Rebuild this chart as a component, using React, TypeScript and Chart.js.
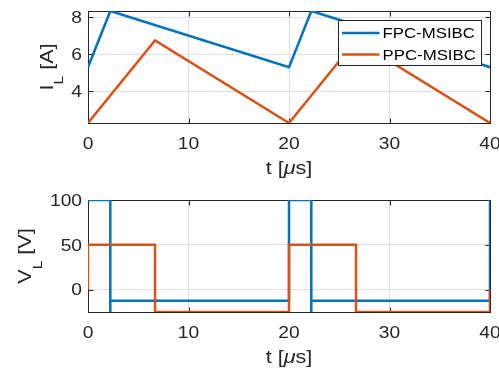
import React, { useEffect, useRef } from 'react';
import { Chart, registerables } from 'chart.js';

Chart.register(...registerables);

// ---------- data ----------
const seriesNames = ['FPC-MSIBC', 'PPC-MSIBC'];
const timeTicks = [0, 10, 20, 30, 40];
const currentTicks = [4, 6, 8];
const voltageTicks = [0, 50, 100];
const timeRange = [0, 40];
const currentRange = [2.27, 8.35];
const voltageRange = [-25, 100];

const fpcCurrentTime = [0, 2.22, 20, 22.22, 40];
const fpcCurrent = [5.3, 8.35, 5.3, 8.35, 5.3];
const ppcCurrentTime = [0, 6.67, 20, 26.67, 40];
const ppcCurrent = [2.27, 6.75, 2.27, 6.75, 2.27];

const fpcVoltageTime = [0, 2.22, 2.22, 2.22, 20, 20, 22.22, 22.22, 22.22, 40, 40];
const fpcVoltage = [100, 100, -25, -12.5, -12.5, 100, 100, -25, -12.5, -12.5, 100];
const ppcVoltageTime = [0, 0, 6.67, 6.67, 20, 20, 26.67, 26.67, 40, 40];
const ppcVoltage = [0, 50, 50, -25, -25, 50, 50, -25, -25, 0];

// ---------- styles ----------
const BLUE = '#0072BD';
const ORANGE = '#D95319';
const AXIS = '#262626';
const GRID = '#dfdfdf';
const FONT = '"Liberation Sans", Arial, Helvetica, sans-serif';
const SX = 1.2;
const LINE_W = 2.5;

type Run = { text: string; font: string; dy?: number };

function drawRuns(ctx: CanvasRenderingContext2D, runs: Run[], x: number, y: number, angle: number, color: string) {
  ctx.save();
  ctx.translate(x, y);
  ctx.rotate(angle);
  ctx.scale(SX, 1);
  let total = 0;
  const widths: number[] = [];
  for (const r of runs) {
    ctx.font = r.font;
    const w = ctx.measureText(r.text).width;
    widths.push(w);
    total += w;
  }
  let cx = -total / 2;
  ctx.fillStyle = color;
  ctx.textAlign = 'left';
  ctx.textBaseline = 'alphabetic';
  runs.forEach((r, i) => {
    ctx.font = r.font;
    ctx.fillText(r.text, cx, r.dy || 0);
    cx += widths[i];
  });
  ctx.restore();
}

function drawScaled(ctx: CanvasRenderingContext2D, text: string, x: number, y: number, align: CanvasTextAlign, font: string, color: string) {
  ctx.save();
  ctx.translate(x, y);
  ctx.scale(SX, 1);
  ctx.font = font;
  ctx.fillStyle = color;
  ctx.textAlign = align;
  ctx.textBaseline = 'alphabetic';
  ctx.fillText(text, 0, 0);
  ctx.restore();
  ctx.font = font;
  return ctx.measureText(text).width * SX;
}

type Cfg = {
  yTicks: number[];
  yRange: number[];
  fpcT: number[];
  fpcV: number[];
  ppcT: number[];
  ppcV: number[];
  padding: { left: number; right: number; top: number; bottom: number };
  yMain: string;
  ySub: string;
  yRest: string;
  legend: boolean;
};

function axesPlugin(cfg: Cfg) {
  return {
    id: 'matlabAxes',
    beforeDatasetsDraw(chart: any) {
      const ctx: CanvasRenderingContext2D = chart.ctx;
      const a = chart.chartArea;
      const l = Math.round(a.left) + 0.5;
      const r = Math.round(a.right) + 0.5;
      const t = Math.round(a.top) + 0.5;
      const b = Math.round(a.bottom) + 0.5;
      ctx.save();
      ctx.strokeStyle = AXIS;
      ctx.lineWidth = 1;
      ctx.beginPath();
      const tl = 5;
      for (const v of timeTicks) {
        const px = Math.round(chart.scales.x.getPixelForValue(v)) + 0.5;
        ctx.moveTo(px, b);
        ctx.lineTo(px, b - tl);
        ctx.moveTo(px, t);
        ctx.lineTo(px, t + tl);
      }
      for (const v of cfg.yTicks) {
        const py = Math.round(chart.scales.y.getPixelForValue(v)) + 0.5;
        ctx.moveTo(l, py);
        ctx.lineTo(l + tl, py);
        ctx.moveTo(r, py);
        ctx.lineTo(r - tl, py);
      }
      ctx.stroke();
      ctx.strokeRect(l, t, r - l, b - t);
      ctx.restore();
    },
    afterDraw(chart: any) {
      const ctx: CanvasRenderingContext2D = chart.ctx;
      const a = chart.chartArea;
      const tickFont = `16px ${FONT}`;
      // x tick labels
      for (const v of timeTicks) {
        const px = chart.scales.x.getPixelForValue(v);
        drawScaled(ctx, String(v), px, a.bottom + 26.4, 'center', tickFont, AXIS);
      }
      // y tick labels
      let maxW = 0;
      for (const v of cfg.yTicks) {
        const py = chart.scales.y.getPixelForValue(v);
        const w = drawScaled(ctx, String(v), a.left - 6, py + 5.7, 'right', tickFont, AXIS);
        maxW = Math.max(maxW, w);
      }
      // x label
      drawRuns(
        ctx,
        [
          { text: 't [', font: `18px ${FONT}` },
          { text: 'μ', font: `italic 18px ${FONT}` },
          { text: 's]', font: `18px ${FONT}` },
        ],
        (a.left + a.right) / 2,
        a.bottom + 51,
        0,
        AXIS
      );
      // y label
      drawRuns(
        ctx,
        [
          { text: cfg.yMain, font: `18px ${FONT}` },
          { text: cfg.ySub, font: `13px ${FONT}`, dy: 10.5 },
          { text: cfg.yRest, font: `18px ${FONT}` },
        ],
        a.left - 6 - maxW - 18.5,
        (a.top + a.bottom) / 2,
        -Math.PI / 2,
        AXIS
      );
      // legend
      if (cfg.legend) {
        const bw = 143;
        const bh = 45;
        const bx = Math.round(a.right) - 9 - bw + 0.5;
        const by = Math.round(a.top) + 9 + 0.5;
        ctx.save();
        ctx.fillStyle = '#ffffff';
        ctx.fillRect(bx, by, bw, bh);
        ctx.strokeStyle = AXIS;
        ctx.lineWidth = 1;
        ctx.strokeRect(bx, by, bw, bh);
        const colors = [BLUE, ORANGE];
        seriesNames.forEach((name, i) => {
          const ly = by + 12.5 + i * 21.5;
          ctx.strokeStyle = colors[i];
          ctx.lineWidth = LINE_W;
          ctx.beginPath();
          ctx.moveTo(bx + 3.5, ly);
          ctx.lineTo(bx + 41, ly);
          ctx.stroke();
          drawScaled(ctx, name, bx + 44, ly + 5.3, 'left', `14px ${FONT}`, '#000000');
        });
        ctx.restore();
      }
    },
  };
}

function makeChart(canvas: HTMLCanvasElement, cfg: Cfg) {
  const tickSetter = (vals: number[]) => (scale: any) => {
    scale.ticks = vals.map((v) => ({ value: v }));
  };
  return new Chart(canvas, {
    type: 'line',
    data: {
      datasets: [
        {
          label: seriesNames[0],
          data: cfg.fpcT.map((t, i) => ({ x: t, y: cfg.fpcV[i] })),
          borderColor: BLUE,
          backgroundColor: BLUE,
          borderWidth: LINE_W,
          pointRadius: 0,
          tension: 0,
          fill: false,
          order: 1,
        },
        {
          label: seriesNames[1],
          data: cfg.ppcT.map((t, i) => ({ x: t, y: cfg.ppcV[i] })),
          borderColor: ORANGE,
          backgroundColor: ORANGE,
          borderWidth: LINE_W,
          pointRadius: 0,
          tension: 0,
          fill: false,
          order: 0,
        },
      ],
    },
    options: {
      responsive: false,
      animation: false,
      events: [],
      layout: { padding: cfg.padding },
      plugins: { legend: { display: false }, tooltip: { enabled: false } },
      scales: {
        x: {
          type: 'linear',
          min: timeRange[0],
          max: timeRange[1],
          afterBuildTicks: tickSetter(timeTicks),
          ticks: { display: false },
          grid: { color: GRID, drawTicks: false, lineWidth: 1 },
          border: { display: false },
        },
        y: {
          type: 'linear',
          min: cfg.yRange[0],
          max: cfg.yRange[1],
          afterBuildTicks: tickSetter(cfg.yTicks),
          ticks: { display: false },
          grid: { color: GRID, drawTicks: false, lineWidth: 1 },
          border: { display: false },
        },
      },
    } as any,
    plugins: [axesPlugin(cfg) as any],
  });
}

export default function App() {
  const topRef = useRef<HTMLCanvasElement>(null);
  const botRef = useRef<HTMLCanvasElement>(null);

  useEffect(() => {
    const c1 = makeChart(topRef.current!, {
      yTicks: currentTicks,
      yRange: currentRange,
      fpcT: fpcCurrentTime,
      fpcV: fpcCurrent,
      ppcT: ppcCurrentTime,
      ppcV: ppcCurrent,
      padding: { left: 88, right: 9, top: 11, bottom: 62 },
      yMain: 'I',
      ySub: 'L',
      yRest: ' [A]',
      legend: true,
    });
    const c2 = makeChart(botRef.current!, {
      yTicks: voltageTicks,
      yRange: voltageRange,
      fpcT: fpcVoltageTime,
      fpcV: fpcVoltage,
      ppcT: ppcVoltageTime,
      ppcV: ppcVoltage,
      padding: { left: 88, right: 9, top: 15, bottom: 59 },
      yMain: 'V',
      ySub: 'L',
      yRest: ' [V]',
      legend: false,
    });
    return () => {
      c1.destroy();
      c2.destroy();
    };
  }, []);

  return (
    <div style={{ position: 'absolute', left: 0, top: 0, width: 499, height: 371, background: '#ffffff' }}>
      <canvas ref={topRef} width={499} height={185} style={{ position: 'absolute', left: 0, top: 0, width: 499, height: 185 }} />
      <canvas ref={botRef} width={499} height={186} style={{ position: 'absolute', left: 0, top: 185, width: 499, height: 186 }} />
    </div>
  );
}
